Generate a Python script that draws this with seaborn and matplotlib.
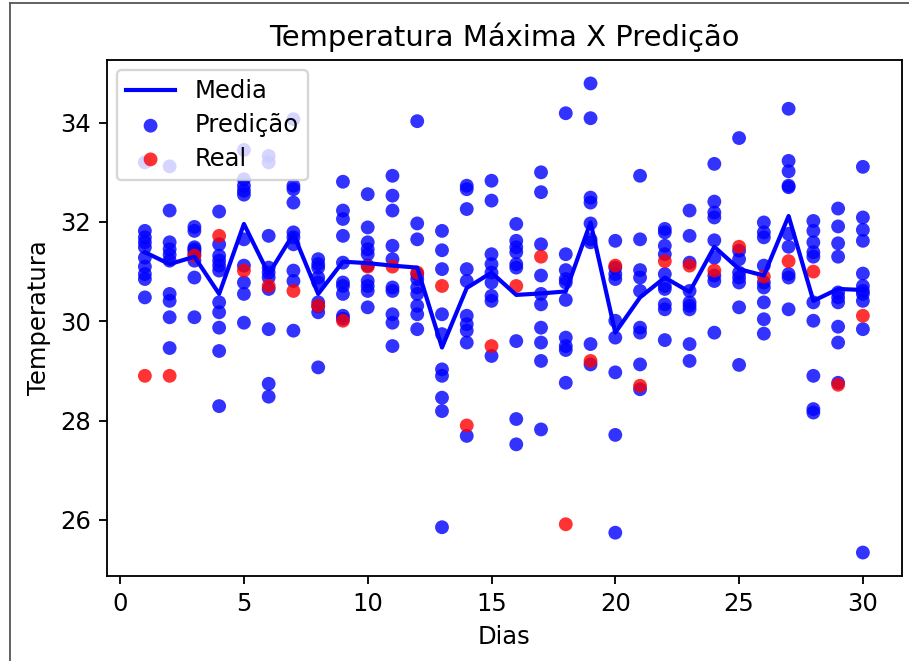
import numpy as np
import pandas as pd
import matplotlib
matplotlib.use("Agg")
import matplotlib.pyplot as plt
from matplotlib.lines import Line2D
import seaborn as sns

# Dias do mês
dias = list(range(1, 31))

# Temperatura máxima real observada em cada dia
real = [28.90, 28.90, 31.32, 31.72, 31.02, 30.71, 30.61, 30.31, 30.01, 31.10,
        31.10, 30.98, 30.71, 27.90, 29.50, 30.71, 31.30, 25.91, 29.20, 31.12,
        28.70, 31.21, 31.12, 31.02, 31.50, 30.90, 31.21, 31.00, 28.72, 30.11]

# Média das predições por dia
media = [31.39, 31.15, 31.30, 30.55, 31.96, 30.95, 31.76, 30.55, 31.20, 31.17,
         31.12, 31.08, 29.47, 30.67, 30.98, 30.53, 30.56, 30.60, 31.99, 29.77,
         30.48, 30.88, 30.59, 31.50, 31.05, 30.92, 32.12, 30.41, 30.65, 30.63]

# Predições individuais de cada dia
predicoes = [
    [33.20, 31.82, 31.69, 31.59, 31.49, 31.28, 31.10, 30.95, 30.85, 30.48],
    [33.12, 32.23, 31.59, 31.45, 31.34, 31.22, 30.55, 30.41, 30.08, 29.46],
    [31.90, 31.82, 31.49, 31.45, 31.41, 31.35, 31.22, 30.88, 30.08],
    [32.21, 31.55, 31.32, 31.22, 31.12, 31.02, 30.38, 30.18, 29.87, 29.40, 28.29],
    [33.45, 32.86, 32.73, 32.63, 32.55, 31.65, 31.12, 30.78, 30.55, 29.97],
    [33.33, 33.20, 31.72, 31.08, 30.98, 30.88, 30.65, 29.84, 28.74, 28.48],
    [34.07, 32.73, 32.66, 32.39, 31.79, 31.69, 31.55, 31.02, 30.81, 29.81],
    [31.25, 31.15, 31.08, 30.88, 30.78, 30.38, 30.30, 30.18, 29.07],
    [32.81, 32.23, 32.06, 31.72, 31.18, 30.78, 30.71, 30.55, 30.11, 30.05],
    [32.56, 31.89, 31.59, 31.45, 31.35, 31.12, 30.81, 30.71, 30.61, 30.28],
    [32.93, 32.53, 32.23, 31.52, 31.25, 30.68, 30.61, 30.14, 29.97, 29.50],
    [34.03, 31.97, 31.65, 30.95, 30.85, 30.68, 30.55, 30.31, 30.14, 29.84],
    [31.82, 31.43, 31.05, 30.14, 29.74, 29.03, 28.90, 28.46, 28.19, 25.85],
    [32.73, 32.66, 32.26, 31.05, 30.81, 30.11, 29.94, 29.81, 29.57, 27.69],
    [32.83, 32.43, 31.35, 31.15, 30.98, 30.78, 30.51, 30.41, 29.30],
    [31.96, 31.62, 31.49, 31.39, 31.15, 31.08, 29.60, 28.03, 27.52],
    [33.00, 32.60, 31.55, 30.92, 30.55, 30.34, 29.87, 29.57, 29.20, 27.82],
    [34.19, 31.35, 31.03, 30.85, 30.78, 30.43, 29.67, 29.50, 29.42, 28.76],
    [34.79, 34.09, 32.49, 32.39, 31.97, 31.65, 31.59, 29.54, 29.13],
    [31.62, 31.08, 30.95, 30.85, 30.01, 29.67, 28.97, 27.71, 25.74],
    [32.93, 31.65, 31.03, 30.88, 30.61, 29.87, 29.77, 29.13, 28.63],
    [31.86, 31.79, 31.52, 31.35, 30.95, 30.71, 30.65, 30.34, 30.24, 29.62],
    [32.23, 31.72, 31.18, 30.61, 30.38, 30.31, 30.24, 29.54, 29.20],
    [33.17, 32.41, 32.19, 32.09, 31.63, 31.28, 30.92, 30.81, 29.77],
    [33.69, 31.42, 31.25, 30.98, 30.88, 30.78, 30.28, 29.12],
    [31.99, 31.79, 31.69, 31.12, 30.78, 30.68, 30.38, 30.04, 29.75],
    [34.28, 33.23, 33.02, 32.73, 32.70, 31.76, 31.50, 30.95, 30.88, 30.24],
    [32.02, 31.82, 31.59, 31.39, 31.30, 30.38, 30.01, 28.90, 28.23, 28.16],
    [32.27, 31.91, 31.57, 31.30, 30.58, 30.48, 30.38, 29.89, 29.57, 28.76],
    [33.11, 32.09, 31.84, 31.62, 30.96, 30.71, 30.61, 30.55, 30.41, 29.84, 25.34],
]

df_pred = pd.DataFrame(
    [(d, v) for d, vals in zip(dias, predicoes) for v in vals],
    columns=["Dias", "Temperatura"],
)
df_real = pd.DataFrame({"Dias": dias, "Temperatura": real})
df_media = pd.DataFrame({"Dias": dias, "Temperatura": media})

DPI = 166
plt.rcParams["font.size"] = 10.5
fig = plt.figure(figsize=(909 / DPI, 661 / DPI), dpi=DPI)
ax = fig.add_axes([107 / 909, 85 / 661, 795 / 909, 516 / 661])

sns.lineplot(data=df_media, x="Dias", y="Temperatura", color="blue",
             linewidth=1.8, label="Media", ax=ax)
sns.scatterplot(data=df_pred, x="Dias", y="Temperatura", color="blue",
                alpha=0.8, edgecolor="none", label="Predição", ax=ax)
sns.scatterplot(data=df_real, x="Dias", y="Temperatura", color="red",
                alpha=0.8, edgecolor="none", label="Real", ax=ax)

ax.set_xlim(-0.53, 31.58)
ax.set_title("Temperatura Máxima X Predição", fontsize=12.6)
ax.set_xlabel("Dias")
ax.set_ylabel("Temperatura")
ax.legend(loc="upper left", fontsize=10.5, labelspacing=0.4,
          borderaxespad=0.4)

# moldura externa
fig.add_artist(Line2D([10 / 909, 10 / 909], [0, 1 - 3 / 661],
                      transform=fig.transFigure, color="0.35", lw=0.8))
fig.add_artist(Line2D([10 / 909, 1], [1 - 3 / 661, 1 - 3 / 661],
                      transform=fig.transFigure, color="0.35", lw=0.8))

fig.savefig("out.png", dpi=DPI)
